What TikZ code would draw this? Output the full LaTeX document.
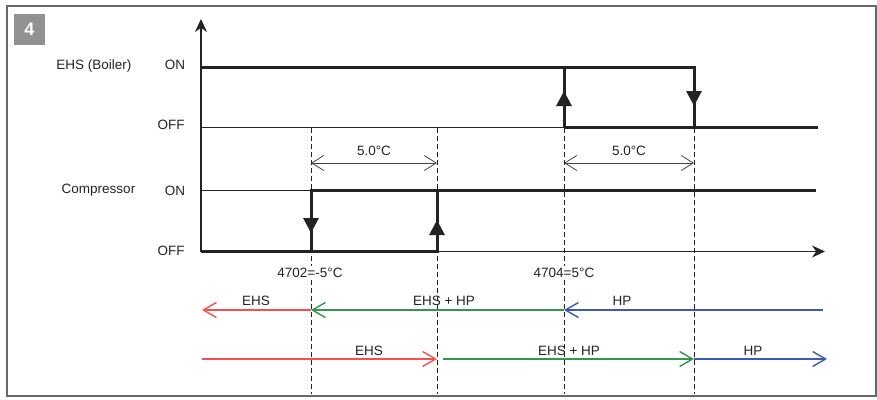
\documentclass[tikz,border=0pt]{standalone}
\usepackage{fontspec}
\setmainfont{Liberation Sans}
\usepackage{tikz}
\usetikzlibrary{arrows.meta,positioning,calc}
\definecolor{framegray}{RGB}{105,105,105}
\definecolor{badgegray}{RGB}{145,145,145}
\definecolor{inkdark}{RGB}{35,35,35}
\definecolor{modered}{RGB}{245,80,80}
\definecolor{modegreen}{RGB}{50,150,80}
\definecolor{modeblue}{RGB}{60,90,180}

\tikzset{
  lbl/.style={font=\fontsize{13.5}{16}\selectfont, text=inkdark, inner sep=0pt, anchor=base},
  level/.style={line width=3pt, inkdark},
  thinlevel/.style={line width=0.9pt, inkdark},
  guide/.style={dash pattern=on 5pt off 3pt, line width=0.9pt, inkdark},
  flip/.style={-{Triangle[length=15pt,width=15pt]}},
  span/.style={{Straight Barb[length=12pt,width=15pt]}-{Straight Barb[length=12pt,width=15pt]}, line width=0.8pt, inkdark!85},
  mode/.style={-{Straight Barb[length=13pt,width=15pt]}, line width=1.4pt},
}

\begin{document}
\begin{tikzpicture}[x=1pt,y=-1pt]
    \useasboundingbox (0,0) rectangle (877,399);

    % Frame and step badge
    \draw[framegray,line width=1.3pt] (7,6) rectangle (876,396);
    \node[fill=badgegray,minimum size=31pt,inner sep=0pt,text=white,font=\bfseries\fontsize{18}{18}\selectfont] (badge) at (29.5,29) {4};

    % Switching points
    \coordinate (o) at (201,251.5);
    \coordinate (ytop) at (201,19);
    \coordinate (xend) at (825,251.5);
    \coordinate (ehsOnL) at (201,67.5);
    \coordinate (ehsOffL) at (201,127.5);
    \coordinate (cmpOnL) at (201,190.5);
    \coordinate (ehsUpB) at (564,127.5);
    \coordinate (ehsUpT) at (564,67.5);
    \coordinate (ehsDnT) at (694,67.5);
    \coordinate (ehsDnB) at (694,127.5);
    \coordinate (ehsOffR) at (816,127.5);
    \coordinate (cmpDnT) at (311,190.5);
    \coordinate (cmpDnB) at (311,251.5);
    \coordinate (cmpUpB) at (437,251.5);
    \coordinate (cmpUpT) at (437,190.5);
    \coordinate (cmpOnR) at (816,190.5);

    % Axes
    \draw[inkdark,line width=1.2pt,-{Stealth[length=13pt,width=12pt]}] (o) -- (ytop);
    \draw[inkdark,line width=1.2pt,-{Stealth[length=13pt,width=12pt]}] (o) -- (xend);

    % Level labels
    \node[lbl] (ehsName) at (94,69) {EHS (Boiler)};
    \node[lbl] (ehsOn) at (175,69) {ON};
    \node[lbl] (ehsOff) at (171,129) {OFF};
    \node[lbl] (cmpName) at (98.5,193) {Compressor};
    \node[lbl] (cmpOn) at (175,195) {ON};
    \node[lbl] (cmpOff) at (171,255) {OFF};

    % Thin reference levels
    \draw[thinlevel] (ehsOffL) -- (ehsUpB);
    \draw[thinlevel] (cmpOnL) -- (cmpDnT);

    % Guide lines
    \foreach \gx in {311,437,564,694}
        \draw[guide] (\gx,127.5) -- (\gx,394);

    % EHS (Boiler) loop
    \draw[level,line cap=rect] (ehsOnL) -- (ehsDnT) -- (ehsDnB) -- (ehsOffR);
    \draw[level] (ehsUpB) -- (ehsUpT);
    \draw[level] (ehsUpB) -- (ehsDnB);
    \draw[level,flip] (ehsUpB) -- (564,91);
    \draw[level,flip] (ehsDnT) -- (694,106);

    % Compressor loop
    \draw[level] (cmpOnR) -- (cmpDnT) -- (cmpDnB);
    \draw[level] (o) -- (cmpUpB) -- (cmpUpT);
    \draw[level,flip] (cmpDnT) -- (311,233);
    \draw[level,flip] (cmpUpB) -- (437,220);

    % Hysteresis spans
    \draw[span] (311,163) -- (437,163) node[lbl,midway,above=8pt,anchor=base] (spanA) {5.0°C};
    \draw[span] (564,163) -- (694,163) node[lbl,midway,above=8pt,anchor=base] (spanB) {5.0°C};
    \node[lbl,fill=white,inner sep=2pt] (setA) at (310,277) {4702=-5°C};
    \node[lbl,fill=white,inner sep=2pt] (setB) at (564,277) {4704=5°C};

    % Falling temperature
    \draw[mode,modered] (311,310) -- (202,310);
    \draw[mode,modegreen] (564,310) -- (311,310);
    \draw[mode,modeblue] (823,310) -- (564,310);
    \node[lbl] (fallA) at (256,305) {EHS};
    \node[lbl] (fallB) at (444,305) {EHS + HP};
    \node[lbl] (fallC) at (622,305) {HP};

    % Rising temperature
    \draw[mode,modered] (202,359) -- (437,359);
    \draw[mode,modegreen] (443,359) -- (694,359);
    \draw[mode,modeblue] (694,359) -- (827,359);
    \node[lbl] (riseA) at (369,355) {EHS};
    \node[lbl] (riseB) at (569,355) {EHS + HP};
    \node[lbl] (riseC) at (753,355) {HP};
\end{tikzpicture}
\end{document}
